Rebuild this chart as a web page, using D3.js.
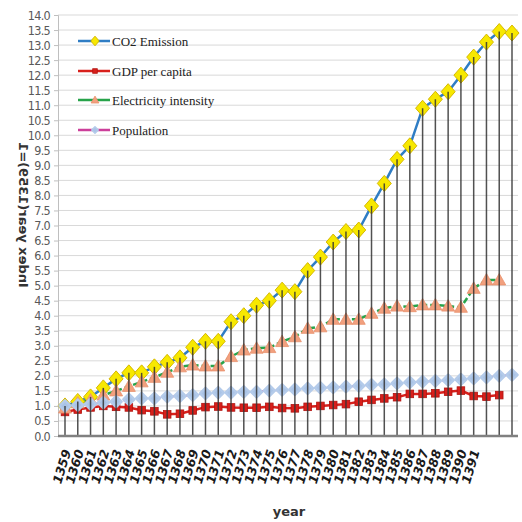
<!DOCTYPE html>
<html><head><meta charset="utf-8">
<script src="https://cdn.jsdelivr.net/npm/d3@7/dist/d3.min.js"></script>
<style>body{margin:0;background:#fff}svg{display:block}</style>
</head><body><svg id="c" width="522" height="522"></svg>
<script>
// ---- data ----
const years = ["1359","1360","1361","1362","1363","1364","1365","1366","1367","1368","1369","1370",
  "1371","1372","1373","1374","1375","1376","1377","1378","1379","1380","1381","1382","1383","1384",
  "1385","1386","1387","1388","1389","1390","1391","1392","1393","1394"];
const tickLabels = ["1359","1360","1361","1362","1363","1364","1365","1366","1367","1368","1369","1370",
  "1371","1372","1373","1374","1375","1376","1377","1378","1379","1380","1381","1382","1383","1384",
  "1385","1386","1387","1388","1389","1390","1391","","",""];
const yTicks = [0,0.5,1,1.5,2,2.5,3,3.5,4,4.5,5,5.5,6,6.5,7,7.5,8,8.5,9,9.5,10,10.5,11,11.5,12,12.5,13,13.5,14];
const seriesNames = ["CO2 Emission","GDP per capita","Electricity intensity","Population"];
const co2 = [1.0,1.15,1.3,1.6,1.9,2.1,2.1,2.3,2.45,2.6,2.95,3.15,3.15,3.8,4.0,4.35,4.5,4.85,4.8,5.5,
  5.95,6.45,6.8,6.85,7.65,8.4,9.2,9.65,10.9,11.2,11.45,12.0,12.6,13.1,13.45,13.4];
const gdp = [0.8,0.88,0.95,1.0,0.97,0.95,0.86,0.82,0.72,0.74,0.85,0.96,0.98,0.95,0.94,0.94,0.97,0.93,
  0.92,0.97,1.0,1.03,1.06,1.14,1.2,1.25,1.29,1.4,1.4,1.42,1.47,1.51,1.33,1.31,1.36];
const elec = [0.93,1.1,1.2,1.36,1.5,1.65,1.8,1.95,2.12,2.3,2.36,2.33,2.33,2.64,2.86,2.92,2.94,3.14,
  3.3,3.58,3.63,3.88,3.88,3.88,4.08,4.25,4.32,4.3,4.36,4.36,4.32,4.28,4.91,5.19,5.19];
const pop = [1.0,1.03,1.06,1.11,1.14,1.22,1.25,1.25,1.31,1.33,1.36,1.42,1.44,1.44,1.47,1.47,1.51,1.53,
  1.55,1.58,1.6,1.62,1.64,1.67,1.7,1.72,1.75,1.78,1.81,1.83,1.86,1.88,1.92,1.95,2.0,2.03];

// ---- drawing ----
const svg = d3.select("#c");
const x = d3.scalePoint().domain(years).range([65, 512]);
const y = d3.scaleLinear().domain([0, 14]).range([436, 15]);
const L = 58, R = 518;

// gridlines
svg.append("g").selectAll("line").data(yTicks.filter(v => v > 0)).join("line")
  .attr("x1", L).attr("x2", R).attr("y1", d => y(d)).attr("y2", d => y(d))
  .attr("stroke", "#d9d9d9").attr("stroke-width", 1);

// y axis
const yAxis = svg.append("g").attr("transform", `translate(${L},0)`)
  .call(d3.axisLeft(y).tickValues(yTicks).tickFormat(d3.format(".1f")).tickSize(4).tickPadding(4));
yAxis.select(".domain").attr("stroke", "#bfbfbf");
yAxis.selectAll(".tick line").attr("stroke", "#bfbfbf");
yAxis.selectAll("text").attr("fill", "#595959")
  .style("font-family", "'DejaVu Sans Condensed','Liberation Sans Narrow',sans-serif")
  .style("font-size", "12.5px").attr("letter-spacing", "-0.7");

// series defs
const series = [
  {name: seriesNames[0], values: co2, line: "#2f7dc4", dash: null, width: 2.5, marker: "co2"},
  {name: seriesNames[1], values: gdp, line: "#d8201c", dash: null, width: 2.5, marker: "gdp"},
  {name: seriesNames[2], values: elec, line: "#27a34a", dash: "6,3", width: 2.5, marker: "elec"},
  {name: seriesNames[3], values: pop, line: "#cc3f9a", dash: "1.5,3", width: 1.8, marker: "pop"}
];

function drawMarker(g, type, cx, cy, s) {
  if (type === "co2") {
    g.append("path").attr("d", `M${cx},${cy-8*s}L${cx+7*s},${cy}L${cx},${cy+8*s}L${cx-7*s},${cy}Z`)
      .attr("fill", "#f7e800").attr("stroke", "#d6b800").attr("stroke-width", 1);
  } else if (type === "gdp") {
    g.append("rect").attr("x", cx-3.8*s).attr("y", cy-3.8*s).attr("width", 7.6*s).attr("height", 7.6*s)
      .attr("fill", "#d81f1b").attr("stroke", "#b01410").attr("stroke-width", 0.8);
  } else if (type === "elec") {
    g.append("path").attr("d", `M${cx},${cy-6.5*s}L${cx+6.5*s},${cy+5*s}L${cx-6.5*s},${cy+5*s}Z`)
      .attr("fill", "#f2a07e").attr("stroke", "#e8906c").attr("stroke-width", 0.8);
  } else {
    g.append("path").attr("d", `M${cx},${cy-5.5*s}L${cx+5.5*s},${cy}L${cx},${cy+5.5*s}L${cx-5.5*s},${cy}Z`)
      .attr("fill", "#a9c3e6").attr("stroke", "#b4cbea").attr("stroke-width", 2.5*s)
      .attr("stroke-linejoin", "round");
  }
}

const line = d3.line().x((d, i) => x(years[i])).y(d => y(d));
const gLines = svg.append("g");
series.forEach(s => {
  gLines.append("path").datum(s.values).attr("d", line)
    .attr("fill", "none").attr("stroke", s.line).attr("stroke-width", s.width)
    .attr("stroke-dasharray", s.dash);
});
series.forEach(s => {
  const g = svg.append("g");
  s.values.forEach((v, i) => drawMarker(g, s.marker, x(years[i]), y(v), 1));
});

// drop lines (from highest value at each year to the axis)
svg.append("g").selectAll("line").data(years).join("line")
  .attr("x1", d => x(d)).attr("x2", d => x(d))
  .attr("y1", (d, i) => y(d3.max(series, s => s.values[i] ?? -Infinity)))
  .attr("y2", y(0))
  .attr("stroke", "#333").attr("stroke-width", 1.5).attr("opacity", 0.85);

// x axis line
svg.append("line").attr("x1", L).attr("x2", R).attr("y1", y(0)).attr("y2", y(0))
  .attr("stroke", "#808080").attr("stroke-width", 2.5);

// x tick labels
svg.append("g").selectAll("text").data(years).join("text")
  .attr("transform", d => `translate(${x(d)+2},${y(0)+14}) rotate(-73)`)
  .attr("text-anchor", "end").attr("dy", "0.35em")
  .style("font-family", "'DejaVu Sans',sans-serif").style("font-size", "12.5px")
  .style("font-weight", "bold").style("font-style", "italic").attr("fill", "#1a1a1a")
  .text((d, i) => tickLabels[i]);

// axis titles
svg.append("text").attr("x", 289).attr("y", 516).attr("text-anchor", "middle")
  .style("font-family", "'DejaVu Sans',sans-serif").style("font-size", "13px").style("font-weight", "bold")
  .attr("fill", "#333").text("year");
svg.append("text").attr("transform", "translate(24,215) scale(-1,1) rotate(-90)")
  .attr("text-anchor", "middle").attr("dy", "0.35em")
  .style("font-family", "'DejaVu Sans',sans-serif").style("font-size", "13px").style("font-weight", "bold")
  .attr("fill", "#333").text("Index year(1359)=1");

// legend
const legY = [41, 71, 100, 130];
const lg = svg.append("g");
series.forEach((s, i) => {
  lg.append("line").attr("x1", 78).attr("x2", 110).attr("y1", legY[i]).attr("y2", legY[i])
    .attr("stroke", s.line).attr("stroke-width", 2.5);
  drawMarker(lg, s.marker, 95, legY[i], 0.6);
  lg.append("text").attr("x", 112).attr("y", legY[i]).attr("dy", "0.35em")
    .style("font-family", "'Liberation Serif',serif").style("font-size", "13px")
    .attr("fill", "#222").text(s.name);
});
</script></body></html>
